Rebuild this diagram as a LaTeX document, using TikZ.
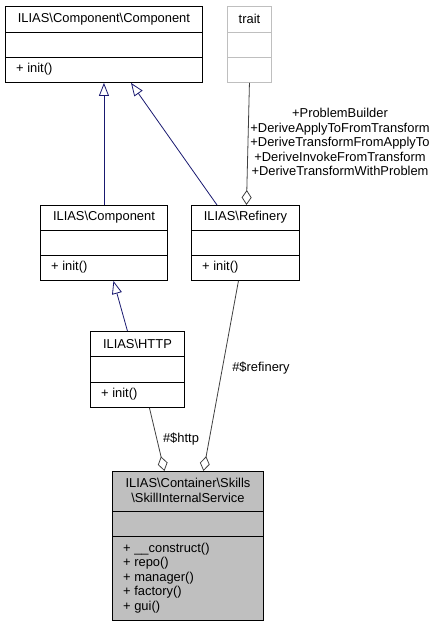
\documentclass[tikz,border=0pt]{standalone}
\usepackage{fontspec}
\setmainfont{Liberation Sans}
\usetikzlibrary{calc,arrows.meta,positioning}
\definecolor{edgeblue}{HTML}{191970}
\definecolor{edgegray}{HTML}{404040}
\definecolor{boxgray}{HTML}{BFBFBF}
\tikzset{
  classbox/.style={draw, line width=0.9pt, anchor=north west, inner sep=0pt}, % outer frame of a class
  traitbox/.style={classbox, draw=boxgray},
  mainbox/.style={classbox, fill=boxgray},
  divider/.style={line width=0.9pt},
  title/.style={inner sep=0pt, align=center},
  member/.style={anchor=west, inner sep=0pt, align=left},
  relname/.style={inner sep=0pt, align=center},
  inherit/.style={draw=edgeblue, line width=0.8pt, -{Triangle[open, length=13pt, width=10pt]}},
  aggreg/.style={draw=edgegray, line width=0.8pt, -{Diamond[open, length=15pt, width=10pt]}},
}

\begin{document}
\begin{tikzpicture}[x=1pt,y=-1pt,font=\fontsize{12.9}{14.5}\selectfont]
   \useasboundingbox (0,0) rectangle (437,627);

   % ILIAS\Component\Component
   \node[classbox, minimum width=197pt, minimum height=76pt] (compcomp) at (5,6) {};
   \draw[divider] ($(compcomp.north west)+(0,26)$) -- ($(compcomp.north east)+(0,26)$);
   \draw[divider] ($(compcomp.north west)+(0,51)$) -- ($(compcomp.north east)+(0,51)$);
   \node[title] (compcomp-name) at ($(compcomp.north)+(0,13)$) {ILIAS\textbackslash Component\textbackslash Component};
   \node[member] (compcomp-ops) at ($(compcomp.north west)+(11,63.5)$) {+ init()};

   % trait
   \node[traitbox, minimum width=44pt, minimum height=76pt] (trait) at (227,6) {};
   \draw[divider, boxgray] ($(trait.north west)+(0,26)$) -- ($(trait.north east)+(0,26)$);
   \draw[divider, boxgray] ($(trait.north west)+(0,51)$) -- ($(trait.north east)+(0,51)$);
   \node[title] (trait-name) at ($(trait.north)+(0,13)$) {trait};

   % ILIAS\Component
   \node[classbox, minimum width=127pt, minimum height=75pt] (comp) at (40,205) {};
   \draw[divider] ($(comp.north west)+(0,25)$) -- ($(comp.north east)+(0,25)$);
   \draw[divider] ($(comp.north west)+(0,50)$) -- ($(comp.north east)+(0,50)$);
   \node[title] (comp-name) at ($(comp.north)+(0,12.5)$) {ILIAS\textbackslash Component};
   \node[member] (comp-ops) at ($(comp.north west)+(11,62.5)$) {+ init()};

   % ILIAS\Refinery
   \node[classbox, minimum width=108pt, minimum height=75pt] (refinery) at (191,205) {};
   \draw[divider] ($(refinery.north west)+(0,25)$) -- ($(refinery.north east)+(0,25)$);
   \draw[divider] ($(refinery.north west)+(0,50)$) -- ($(refinery.north east)+(0,50)$);
   \node[title] (refinery-name) at ($(refinery.north)+(0,12.5)$) {ILIAS\textbackslash Refinery};
   \node[member] (refinery-ops) at ($(refinery.north west)+(11,62.5)$) {+ init()};

   % ILIAS\HTTP
   \node[classbox, minimum width=94pt, minimum height=76pt] (http) at (90,331) {};
   \draw[divider] ($(http.north west)+(0,25)$) -- ($(http.north east)+(0,25)$);
   \draw[divider] ($(http.north west)+(0,51)$) -- ($(http.north east)+(0,51)$);
   \node[title] (http-name) at ($(http.north)+(0,12.5)$) {ILIAS\textbackslash HTTP};
   \node[member] (http-ops) at ($(http.north west)+(11,63.5)$) {+ init()};

   % ILIAS\Container\Skills\SkillInternalService
   \node[mainbox, minimum width=151pt, minimum height=149pt] (service) at (112,471) {};
   \draw[divider] ($(service.north west)+(0,40)$) -- ($(service.north east)+(0,40)$);
   \draw[divider] ($(service.north west)+(0,65)$) -- ($(service.north east)+(0,65)$);
   \node[title] (service-name) at ($(service.north)+(0,19.5)$) {ILIAS\textbackslash Container\textbackslash Skills\\\textbackslash SkillInternalService};
   \node[member] (service-ops) at ($(service.north west)+(11,107)$) {+ \_\_construct()\\+ repo()\\+ manager()\\+ factory()\\+ gui()};

   % end points of the connectors
   \coordinate (refinery-up) at ($(refinery.north west)+(26,0)$);
   \coordinate (compcomp-in) at ($(compcomp.south west)+(126,0)$);
   \coordinate (refinery-trait) at ($(refinery.north)+(1,0)$);
   \coordinate (http-up) at ($(http.north)+(-10,0)$);
   \coordinate (comp-in) at ($(comp.south)+(9.5,0)$);
   \coordinate (http-down) at ($(http.south)+(12,0)$);
   \coordinate (service-http) at ($(service.north)+(-23.5,0)$);
   \coordinate (refinery-down) at ($(refinery.south)+(-7,0)$);
   \coordinate (service-refinery) at ($(service.north)+(15.5,0)$);

   \draw[inherit] (comp.north) -- (compcomp.south);
   \draw[inherit] (refinery-up) -- (compcomp-in);
   \draw[inherit] (http-up) -- (comp-in);
   \draw[aggreg] (trait.south) -- (refinery-trait);
   \draw[aggreg] (http-down) -- (service-http);
   \draw[aggreg] (refinery-down) -- (service-refinery);

   \node[relname] (trait-roles) at (340,142) {+ProblemBuilder\\+DeriveApplyToFromTransform\\+DeriveTransformFromApplyTo\\+DeriveInvokeFromTransform\\+DeriveTransformWithProblem};
   \node[relname] (http-role) at (181,439) {\#\$http};
   \node[relname] (refinery-role) at (261,368) {\#\$refinery};
\end{tikzpicture}
\end{document}
